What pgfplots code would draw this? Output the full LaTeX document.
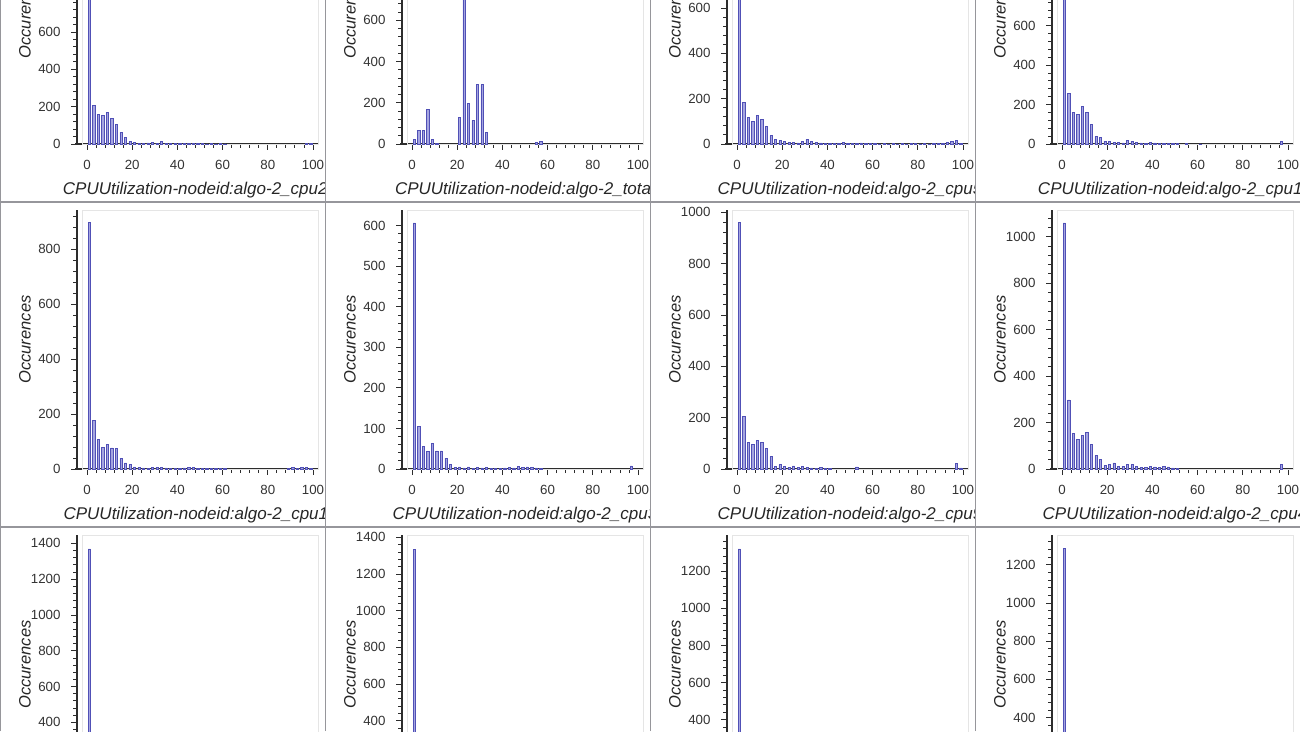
\documentclass[border=0pt]{standalone}
\usepackage{fontspec}
\setmainfont{Liberation Sans}
\usepackage{pgfplots}
\pgfplotsset{compat=1.18}

\definecolor{barfill}{RGB}{165,165,224}
\definecolor{barline}{RGB}{80,80,182}
\definecolor{axcol}{RGB}{45,45,45}
\definecolor{cellline}{RGB}{150,150,155}

\pgfplotsset{
  panelstyle/.style={
    scale only axis, width=236pt, height=259pt, anchor=south west,
    xmin=-2.2, xmax=102.2, ymin=0,
    axis lines=left, axis y line shift=5pt,
    axis line style={axcol, line width=1.1pt, -},
    xtick={0,20,...,100}, minor x tick num=4, minor y tick num=4,
    tick align=outside, major tick length=6pt, minor tick length=4pt,
    tick style={axcol, line width=0.9pt},
    ticklabel style={font=\fontsize{13.3}{15}\selectfont, text=black!80},
    xticklabel shift=7pt, yticklabel shift=7pt,
    /pgf/number format/assume math mode=true,
    /pgf/number format/1000 sep={},
    scaled y ticks=false,
    ylabel={Occurences},
    every axis y label/.style={at={(axis description cs:-0.2415,0.5)}, anchor=center, rotate=90,
      font=\fontsize{16.5}{19}\selectfont\itshape, text=black!85},
    every axis x label/.style={at={(axis description cs:0.5,-0.1969)}, anchor=base,
      font=\fontsize{17}{19}\selectfont\itshape, text=black!85},
    clip=false,
  },
  histbars/.style={ybar, bar width=1.0, fill=barfill, draw=barline, line width=0.5pt},
}

% #1 cell left, #2 cell bottom, #3 cell top, #4 frame bottom, #5 ymax, #6 ytick step, #7 label, #8 data
\newcommand{\panel}[8]{%
\begin{scope}
\clip (#1pt,#2pt) rectangle (#1pt+325pt,#3pt);
\begin{axis}[panelstyle, at={(#1pt+82pt,#4pt)}, ymax=#5, ytick distance=#6,
  xlabel={CPUUtilization-nodeid:algo-2\_#7}]
\draw[black!10, line width=0.8pt] (rel axis cs:0,0) rectangle (rel axis cs:1,1);
\addplot[histbars] coordinates {#8};
\draw[axcol, line width=1.1pt] (rel axis cs:0,0) -- ++(-12pt,0);
\end{axis}
\end{scope}}

\begin{document}
\begin{tikzpicture}[x=1pt,y=1pt]
\path[use as bounding box] (0,0) rectangle (1300,731);

% row 1
\panel{0}{529}{900}{587}{1387}{200}{cpu21}{
(1,1320)(3,205)(5,157)(7,152)(9,170)(11,139)(13,104)(15,62)(17,37)(19,14)
(21,8)(23,5)(25,4)(27,6)(29,10)(31,5)(33,13)(35,4)(37,3)(39,2)(41,3)(43,2)
(45,2)(47,3)(49,2)(51,2)(53,1)(55,2)(57,1)(59,2)(61,1)(97,4)(99,2)}
\panel{325}{529}{900}{587}{1257}{200}{total}{
(1,21)(3,65)(5,65)(7,167)(9,21)(11,3)(21,131)(23,1200)(25,196)(27,115)
(29,291)(31,288)(33,58)(55,8)(57,14)}
\panel{650}{529}{900}{587}{1143}{200}{cpu5}{
(1,1088)(3,184)(5,119)(7,100)(9,125)(11,107)(13,78)(15,37)(17,19)(19,16)
(21,10)(23,6)(25,8)(27,5)(29,12)(31,20)(33,10)(35,6)(37,5)(39,3)(41,3)(43,2)
(45,3)(47,8)(49,3)(51,2)(53,2)(55,5)(57,2)(59,2)(61,2)(63,1)(65,2)(67,1)
(69,2)(71,1)(73,2)(75,1)(77,2)(79,2)(81,1)(83,2)(85,1)(87,2)(89,2)(91,4)
(93,8)(95,10)(97,17)(99,4)}
\panel{975}{529}{900}{587}{1314}{200}{cpu13}{
(1,1250)(3,255)(5,162)(7,149)(9,191)(11,160)(13,101)(15,39)(17,34)(19,14)
(21,12)(23,8)(25,10)(27,6)(29,20)(31,14)(33,8)(35,6)(37,4)(39,9)(41,6)(43,4)
(45,5)(47,3)(49,3)(51,2)(55,2)(61,1)(97,12)}

% row 2
\panel{0}{204}{529}{262}{943}{200}{cpu11}{
(1,897)(3,176)(5,107)(7,79)(9,91)(11,77)(13,76)(15,40)(17,22)(19,16)
(21,8)(23,5)(25,4)(27,3)(29,6)(31,7)(33,6)(35,4)(37,3)(39,2)(41,3)(43,4)
(45,6)(47,5)(49,3)(51,3)(53,2)(55,3)(57,2)(59,2)(61,2)(89,3)(91,5)(93,3)
(95,6)(97,7)(99,3)}
\panel{325}{204}{529}{262}{639}{100}{cpu3}{
(1,607)(3,105)(5,55)(7,44)(9,63)(11,45)(13,45)(15,27)(17,12)(19,4)
(21,5)(23,3)(25,5)(27,2)(29,4)(31,3)(33,4)(35,2)(37,2)(39,2)(41,3)(43,4)
(45,3)(47,6)(49,4)(51,5)(53,4)(55,3)(57,2)(97,8)}
\panel{650}{204}{529}{262}{1009}{200}{cpu9}{
(1,960)(3,205)(5,105)(7,95)(9,112)(11,105)(13,79)(15,49)(17,10)(19,17)
(21,10)(23,6)(25,12)(27,5)(29,10)(31,6)(33,4)(35,3)(37,6)(39,3)(41,2)
(53,8)(97,23)(99,4)}
\panel{975}{204}{529}{262}{1115}{200}{cpu4}{
(1,1060)(3,298)(5,152)(7,129)(9,145)(11,158)(13,105)(15,59)(17,40)(19,16)
(21,19)(23,26)(25,11)(27,11)(29,21)(31,19)(33,11)(35,8)(37,6)(39,10)(41,9)
(43,8)(45,10)(47,9)(49,5)(51,4)(97,19)}

% row 3
\panel{0}{-200}{204}{-63}{1447}{200}{cpu6}{(1,1369)(3,12)(5,6)(7,4)}
\panel{325}{-200}{204}{-63}{1413}{200}{cpu7}{(1,1336)(3,14)(5,5)(7,3)}
\panel{650}{-200}{204}{-63}{1395}{200}{cpu8}{(1,1320)(3,15)(5,7)(7,4)}
\panel{975}{-200}{204}{-63}{1356}{200}{cpu0}{(1,1285)(3,18)(5,8)(7,5)}

% cell borders
\draw[cellline, line width=1.3pt] (0.6,0) -- (0.6,731);
\draw[cellline, line width=1.3pt] (325.5,0) -- (325.5,731);
\draw[cellline, line width=1.3pt] (650.5,0) -- (650.5,731);
\draw[cellline, line width=1.3pt] (975.5,0) -- (975.5,731);
\draw[cellline, line width=1.3pt] (0,529) -- (1300,529);
\draw[cellline, line width=1.3pt] (0,204) -- (1300,204);
\end{tikzpicture}
\end{document}
